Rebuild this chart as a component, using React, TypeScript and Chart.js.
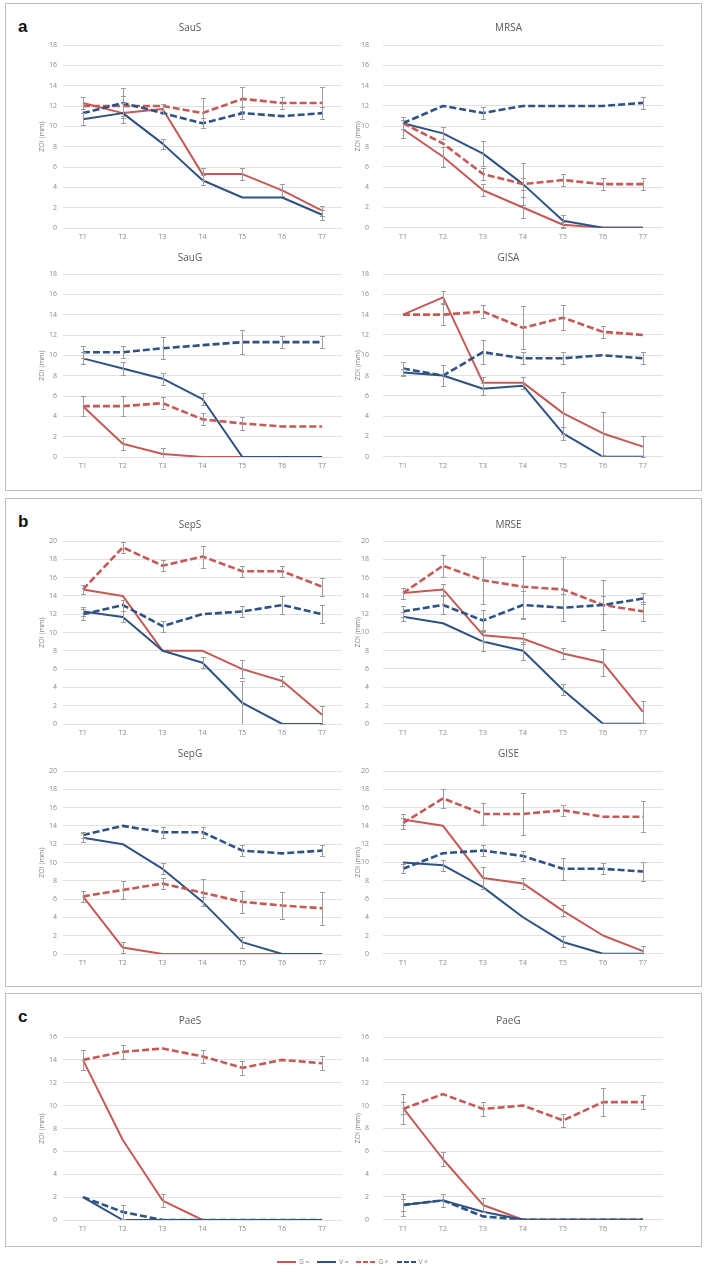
import React, { useEffect, useRef } from 'react';
import { Chart, registerables } from 'chart.js';

Chart.register(...registerables);

// ---------- data ----------
const TIMES = ['T1', 'T2', 'T3', 'T4', 'T5', 'T6', 'T7'];
const SERIES_NAMES = ['G =', 'V =', 'G ≠', 'V ≠'];
const Y_TITLE = 'ZOI (mm)';

// SauS
const SAUS_G_EQ = [12.3, 11.3, 11.7, 5.3, 5.3, 3.7, 1.7];
const SAUS_V_EQ = [10.7, 11.3, 8.3, 4.7, 3.0, 3.0, 1.3];
const SAUS_G_NE = [12.0, 12.0, 12.0, 11.3, 12.7, 12.3, 12.3];
const SAUS_V_NE = [11.3, 12.3, 11.3, 10.3, 11.3, 11.0, 11.3];
const SAUS_G_EQ_ERR = [0.6, 0, 0.5, 0.6, 0.6, 0.6, 0.5];
const SAUS_V_EQ_ERR = [0.6, 1.0, 0.5, 0.5, 0, 0, 0.5];
const SAUS_G_NE_ERR = [0, 1.0, 0, 1.5, 1.2, 0.6, 1.6];
const SAUS_V_NE_ERR = [0, 1.5, 0, 0.5, 0.6, 0, 0.6];

// MRSA
const MRSA_G_EQ = [9.7, 7.0, 3.7, 2.0, 0.3, 0, 0];
const MRSA_V_EQ = [10.3, 9.3, 7.3, 4.3, 0.7, 0, 0];
const MRSA_G_NE = [10.3, 8.3, 5.3, 4.3, 4.7, 4.3, 4.3];
const MRSA_V_NE = [10.3, 12.0, 11.3, 12.0, 12.0, 12.0, 12.3];
const MRSA_G_EQ_ERR = [0.9, 1.0, 0.6, 1.0, 0.3, 0, 0];
const MRSA_V_EQ_ERR = [0.6, 0.6, 1.2, 2.1, 0.6, 0, 0];
const MRSA_G_NE_ERR = [0, 0, 0.6, 0.6, 0.6, 0.6, 0.6];
const MRSA_V_NE_ERR = [0, 0, 0.6, 0, 0, 0, 0.6];

// SauG
const SAUG_G_EQ = [5.0, 1.3, 0.3, 0, 0, 0, 0];
const SAUG_V_EQ = [9.7, 8.7, 7.7, 5.7, 0, 0, 0];
const SAUG_G_NE = [5.0, 5.0, 5.3, 3.7, 3.3, 3.0, 3.0];
const SAUG_V_NE = [10.3, 10.3, 10.7, 11.0, 11.3, 11.3, 11.3];
const SAUG_G_EQ_ERR = [1.0, 0.6, 0.6, 0, 0, 0, 0];
const SAUG_V_EQ_ERR = [0.6, 0.6, 0.6, 0.6, 0, 0, 0];
const SAUG_G_NE_ERR = [0, 1.0, 0.6, 0.6, 0.6, 0, 0];
const SAUG_V_NE_ERR = [0.6, 0.6, 1.1, 0, 1.2, 0.6, 0.6];

// GISA
const GISA_G_EQ = [14.0, 15.7, 7.3, 7.3, 4.3, 2.3, 1.0];
const GISA_V_EQ = [8.3, 8.0, 6.7, 7.0, 2.3, 0, 0];
const GISA_G_NE = [14.0, 14.0, 14.3, 12.7, 13.7, 12.3, 12.0];
const GISA_V_NE = [8.7, 8.0, 10.3, 9.7, 9.7, 10.0, 9.7];
const GISA_G_EQ_ERR = [0, 0.6, 0.6, 0.6, 2.1, 2.1, 1.0];
const GISA_V_EQ_ERR = [0.3, 1.0, 0.6, 0, 0.6, 0, 0];
const GISA_G_NE_ERR = [0, 1.0, 0.6, 2.1, 1.2, 0.6, 0];
const GISA_V_NE_ERR = [0.6, 0, 1.2, 0.6, 0.6, 0, 0.6];

// SepS
const SEPS_G_EQ = [14.7, 14.0, 8.0, 8.0, 6.0, 4.7, 1.0];
const SEPS_V_EQ = [12.3, 11.7, 8.0, 6.7, 2.3, 0, 0];
const SEPS_G_NE = [14.7, 19.3, 17.3, 18.3, 16.7, 16.7, 15.0];
const SEPS_V_NE = [12.0, 13.0, 10.7, 12.0, 12.3, 13.0, 12.0];
const SEPS_G_EQ_ERR = [0, 0, 0, 0, 1.0, 0.6, 1.0];
const SEPS_V_EQ_ERR = [0.5, 0.6, 0, 0.6, 2.4, 0, 0];
const SEPS_G_NE_ERR = [0.5, 0.6, 0.6, 1.2, 0.6, 0.6, 1.0];
const SEPS_V_NE_ERR = [0.6, 0.6, 0.6, 0, 0.6, 1.0, 1.0];

// MRSE
const MRSE_G_EQ = [14.3, 14.7, 9.7, 9.3, 7.7, 6.7, 1.3];
const MRSE_V_EQ = [11.7, 11.0, 9.0, 8.0, 3.7, 0, 0];
const MRSE_G_NE = [14.3, 17.3, 15.7, 15.0, 14.7, 13.0, 12.3];
const MRSE_V_NE = [12.3, 13.0, 11.3, 13.0, 12.7, 13.0, 13.7];
const MRSE_G_EQ_ERR = [0.6, 0.6, 0.6, 0.6, 0.6, 1.5, 1.2];
const MRSE_V_EQ_ERR = [0.5, 0, 1.0, 1.0, 0.6, 0, 0];
const MRSE_G_NE_ERR = [0.6, 1.2, 2.6, 3.4, 3.5, 2.7, 1.0];
const MRSE_V_NE_ERR = [0.6, 1.0, 1.2, 1.5, 1.5, 1.0, 0.6];

// SepG
const SEPG_G_EQ = [6.3, 0.7, 0, 0, 0, 0, 0];
const SEPG_V_EQ = [12.7, 12.0, 9.3, 5.7, 1.3, 0, 0];
const SEPG_G_NE = [6.3, 7.0, 7.7, 6.7, 5.7, 5.3, 5.0];
const SEPG_V_NE = [13.0, 14.0, 13.3, 13.3, 11.3, 11.0, 11.3];
const SEPG_G_EQ_ERR = [0.6, 0.6, 0, 0, 0, 0, 0];
const SEPG_V_EQ_ERR = [0.5, 0, 0.6, 0.5, 0.6, 0, 0];
const SEPG_G_NE_ERR = [0, 1.0, 0.6, 1.5, 1.2, 1.5, 1.8];
const SEPG_V_NE_ERR = [0.3, 0, 0.6, 0.6, 0.6, 0, 0.6];

// GISE
const GISE_G_EQ = [14.7, 14.0, 8.3, 7.7, 4.7, 2.0, 0.3];
const GISE_V_EQ = [10.0, 9.7, 7.3, 4.0, 1.3, 0, 0];
const GISE_G_NE = [14.3, 17.0, 15.3, 15.3, 15.7, 15.0, 15.0];
const GISE_V_NE = [9.3, 11.0, 11.3, 10.7, 9.3, 9.3, 9.0];
const GISE_G_EQ_ERR = [0.6, 0, 1.2, 0.6, 0.6, 0, 0.6];
const GISE_V_EQ_ERR = [0, 0.6, 0, 0, 0.6, 0, 0];
const GISE_G_NE_ERR = [0.6, 1.0, 1.2, 2.3, 0.6, 0, 1.7];
const GISE_V_NE_ERR = [0.5, 0, 0.6, 0.6, 1.2, 0.6, 1.0];

// PaeS
const PAES_G_EQ = [14.0, 7.0, 1.7, 0, 0, 0, 0];
const PAES_V_EQ = [2.0, 0, 0, 0, 0, 0, 0];
const PAES_G_NE = [14.0, 14.7, 15.0, 14.3, 13.3, 14.0, 13.7];
const PAES_V_NE = [2.0, 0.7, 0, 0, 0, 0, 0];
const PAES_G_EQ_ERR = [0, 0, 0.6, 0, 0, 0, 0];
const PAES_V_EQ_ERR = [0, 0, 0, 0, 0, 0, 0];
const PAES_G_NE_ERR = [0.9, 0.6, 0, 0.6, 0.6, 0, 0.6];
const PAES_V_NE_ERR = [0, 0.6, 0, 0, 0, 0, 0];

// PaeG
const PAEG_G_EQ = [9.8, 5.3, 1.3, 0, 0, 0, 0];
const PAEG_V_EQ = [1.3, 1.7, 0.7, 0, 0, 0, 0];
const PAEG_G_NE = [9.7, 11.0, 9.7, 10.0, 8.7, 10.3, 10.3];
const PAEG_V_NE = [1.3, 1.7, 0.3, 0, 0, 0, 0];
const PAEG_G_EQ_ERR = [0.5, 0.6, 0.6, 0, 0, 0, 0];
const PAEG_V_EQ_ERR = [1.0, 0.6, 0, 0, 0, 0, 0];
const PAEG_G_NE_ERR = [1.3, 0, 0.6, 0, 0.6, 1.2, 0.6];
const PAEG_V_NE_ERR = [0.5, 0, 0, 0, 0, 0, 0];

// ---------- styles / layout ----------
const FONT = "'Open Sans', 'Liberation Sans', sans-serif";
const RED = '#C45A56';
const BLUE = '#2D5283';
const TICK_COLOR = '#8a8a8a';
const TITLE_COLOR = '#595959';
const X_AXIS_H = 18;

const SERIES_STYLE = [
  { color: RED, width: 2, dash: [] as number[], order: 4 },
  { color: BLUE, width: 2, dash: [] as number[], order: 3 },
  { color: RED, width: 2.6, dash: [7, 3], order: 2 },
  { color: BLUE, width: 2.6, dash: [7, 3], order: 1 },
];

const COLUMNS = [
  { left: 38, right: 342, axisW: 25, padRight: 0, tickPad: 6 },
  { left: 354, right: 666, axisW: 29, padRight: 3, tickPad: 14 },
];

const CHARTS = [
  { title: 'SauS', col: 0, titleY: 28, plotTop: 45, plotBottom: 228, yMax: 18,
    series: [SAUS_G_EQ, SAUS_V_EQ, SAUS_G_NE, SAUS_V_NE], errors: [SAUS_G_EQ_ERR, SAUS_V_EQ_ERR, SAUS_G_NE_ERR, SAUS_V_NE_ERR] },
  { title: 'MRSA', col: 1, titleY: 28, plotTop: 45, plotBottom: 228, yMax: 18,
    series: [MRSA_G_EQ, MRSA_V_EQ, MRSA_G_NE, MRSA_V_NE], errors: [MRSA_G_EQ_ERR, MRSA_V_EQ_ERR, MRSA_G_NE_ERR, MRSA_V_NE_ERR] },
  { title: 'SauG', col: 0, titleY: 258, plotTop: 274, plotBottom: 457, yMax: 18,
    series: [SAUG_G_EQ, SAUG_V_EQ, SAUG_G_NE, SAUG_V_NE], errors: [SAUG_G_EQ_ERR, SAUG_V_EQ_ERR, SAUG_G_NE_ERR, SAUG_V_NE_ERR] },
  { title: 'GISA', col: 1, titleY: 258, plotTop: 274, plotBottom: 457, yMax: 18,
    series: [GISA_G_EQ, GISA_V_EQ, GISA_G_NE, GISA_V_NE], errors: [GISA_G_EQ_ERR, GISA_V_EQ_ERR, GISA_G_NE_ERR, GISA_V_NE_ERR] },
  { title: 'SepS', col: 0, titleY: 525, plotTop: 541, plotBottom: 724, yMax: 20,
    series: [SEPS_G_EQ, SEPS_V_EQ, SEPS_G_NE, SEPS_V_NE], errors: [SEPS_G_EQ_ERR, SEPS_V_EQ_ERR, SEPS_G_NE_ERR, SEPS_V_NE_ERR] },
  { title: 'MRSE', col: 1, titleY: 525, plotTop: 541, plotBottom: 724, yMax: 20,
    series: [MRSE_G_EQ, MRSE_V_EQ, MRSE_G_NE, MRSE_V_NE], errors: [MRSE_G_EQ_ERR, MRSE_V_EQ_ERR, MRSE_G_NE_ERR, MRSE_V_NE_ERR] },
  { title: 'SepG', col: 0, titleY: 754, plotTop: 771, plotBottom: 954, yMax: 20,
    series: [SEPG_G_EQ, SEPG_V_EQ, SEPG_G_NE, SEPG_V_NE], errors: [SEPG_G_EQ_ERR, SEPG_V_EQ_ERR, SEPG_G_NE_ERR, SEPG_V_NE_ERR] },
  { title: 'GISE', col: 1, titleY: 754, plotTop: 771, plotBottom: 954, yMax: 20,
    series: [GISE_G_EQ, GISE_V_EQ, GISE_G_NE, GISE_V_NE], errors: [GISE_G_EQ_ERR, GISE_V_EQ_ERR, GISE_G_NE_ERR, GISE_V_NE_ERR] },
  { title: 'PaeS', col: 0, titleY: 1021, plotTop: 1037, plotBottom: 1220, yMax: 16,
    series: [PAES_G_EQ, PAES_V_EQ, PAES_G_NE, PAES_V_NE], errors: [PAES_G_EQ_ERR, PAES_V_EQ_ERR, PAES_G_NE_ERR, PAES_V_NE_ERR] },
  { title: 'PaeG', col: 1, titleY: 1021, plotTop: 1037, plotBottom: 1220, yMax: 16,
    series: [PAEG_G_EQ, PAEG_V_EQ, PAEG_G_NE, PAEG_V_NE], errors: [PAEG_G_EQ_ERR, PAEG_V_EQ_ERR, PAEG_G_NE_ERR, PAEG_V_NE_ERR] },
];

const PANELS = [
  { letter: 'a', top: 3, bottom: 491, baseline: 32 },
  { letter: 'b', top: 498, bottom: 987, baseline: 527 },
  { letter: 'c', top: 993, bottom: 1247, baseline: 1022 },
];

// ---------- error bar plugin ----------
const errorBarPlugin = {
  id: 'errorBars',
  afterDatasetsDraw(chart: any) {
    const { ctx, chartArea } = chart;
    const yScale = chart.scales.y;
    ctx.save();
    ctx.strokeStyle = '#9d9d9d';
    ctx.lineWidth = 1;
    ctx.setLineDash([]);
    chart.data.datasets.forEach((ds: any, di: number) => {
      const errs: number[] = ds.errors;
      if (!errs) return;
      const meta = chart.getDatasetMeta(di);
      meta.data.forEach((pt: any, i: number) => {
        const e = errs[i];
        if (!e) return;
        const v = ds.data[i];
        const x = Math.round(pt.x) + 0.5;
        const yTop = Math.round(yScale.getPixelForValue(v + e)) + 0.5;
        const yBotRaw = yScale.getPixelForValue(v - e);
        const clipped = yBotRaw > chartArea.bottom;
        const yBot = Math.round(Math.min(yBotRaw, chartArea.bottom)) + 0.5;
        ctx.beginPath();
        ctx.moveTo(x, yTop);
        ctx.lineTo(x, yBot);
        ctx.moveTo(x - 2.5, yTop);
        ctx.lineTo(x + 2.5, yTop);
        if (!clipped) {
          ctx.moveTo(x - 2.5, yBot);
          ctx.lineTo(x + 2.5, yBot);
        }
        ctx.stroke();
      });
    });
    ctx.restore();
  },
};

function ZoiChart({ cfg }: { cfg: any }) {
  const ref = useRef<HTMLCanvasElement>(null);
  const col = COLUMNS[cfg.col];
  const canvasTop = cfg.titleY - 6;
  const titlePad = cfg.plotTop - canvasTop - 12;
  const height = cfg.plotBottom - canvasTop + X_AXIS_H;
  const width = col.right - col.left;

  useEffect(() => {
    if (!ref.current) return;
    const chart = new Chart(ref.current, {
      type: 'line',
      data: {
        labels: TIMES,
        datasets: cfg.series.map((d: number[], i: number) => ({
          label: SERIES_NAMES[i],
          data: d,
          errors: cfg.errors[i],
          borderColor: SERIES_STYLE[i].color,
          backgroundColor: SERIES_STYLE[i].color,
          borderWidth: SERIES_STYLE[i].width,
          borderDash: SERIES_STYLE[i].dash,
          order: SERIES_STYLE[i].order,
          pointRadius: 0,
          pointHoverRadius: 0,
          tension: 0,
          fill: false,
          borderCapStyle: 'butt',
          borderJoinStyle: 'round',
        })),
      } as any,
      options: {
        responsive: false,
        animation: false,
        events: [],
        layout: { padding: { left: 0, right: col.padRight, top: 0, bottom: 0 } },
        plugins: {
          legend: { display: false },
          tooltip: { enabled: false },
          title: {
            display: true,
            text: cfg.title,
            color: TITLE_COLOR,
            font: { family: FONT, size: 10, weight: 'normal', lineHeight: 1.2 },
            padding: { top: 0, bottom: titlePad },
          },
        },
        scales: {
          x: {
            offset: true,
            grid: { display: false, drawTicks: false },
            border: { display: false },
            ticks: {
              color: TICK_COLOR,
              font: { family: FONT, size: 7 },
              padding: 5,
              autoSkip: false,
              maxRotation: 0,
            },
            afterFit: (s: any) => { s.height = X_AXIS_H; },
          },
          y: {
            min: 0,
            max: cfg.yMax,
            ticks: {
              stepSize: 2,
              color: TICK_COLOR,
              font: { family: FONT, size: 7 },
              padding: col.tickPad,
            },
            grid: { color: '#e2e2e2', drawTicks: false, lineWidth: 1 },
            border: { display: false },
            title: {
              display: true,
              text: Y_TITLE,
              color: TICK_COLOR,
              font: { family: FONT, size: 7, lineHeight: 1.2 },
              padding: 0,
            },
            afterFit: (s: any) => { s.width = col.axisW; },
          },
        },
      } as any,
      plugins: [errorBarPlugin],
    });
    return () => chart.destroy();
  }, []);

  return (
    <canvas
      ref={ref}
      width={width}
      height={height}
      style={{ position: 'absolute', left: col.left, top: canvasTop, width, height }}
    />
  );
}

function LegendItem({ color, dashed, label }: { color: string; dashed: boolean; label: string }) {
  return (
    <div style={{ display: 'flex', alignItems: 'center', marginRight: 8 }}>
      <svg width={19} height={6} style={{ display: 'block' }}>
        <line x1={0} y1={3} x2={19} y2={3} stroke={color} strokeWidth={2}
          strokeDasharray={dashed ? '5 2' : undefined} />
      </svg>
      <span style={{ marginLeft: 3, fontSize: 6.5, color: '#8a8a8a', fontFamily: FONT, lineHeight: '8px', whiteSpace: 'nowrap' }}>{label}</span>
    </div>
  );
}

export default function App() {
  return (
    <div style={{ position: 'absolute', left: 0, top: 0, width: 706, height: 1276, background: '#fff', overflow: 'hidden' }}>
      {PANELS.map((p) => (
        <React.Fragment key={p.letter}>
          <div style={{
            position: 'absolute', left: 5, top: p.top, width: 697, height: p.bottom - p.top,
            border: '1px solid #bdbdbd', boxSizing: 'border-box',
          }} />
          <div style={{
            position: 'absolute', left: 18, top: p.baseline - 14.5, fontFamily: "'Liberation Sans', Arial, sans-serif",
            fontWeight: 'bold', fontSize: 17, lineHeight: '17px', color: '#111',
          }}>{p.letter}</div>
        </React.Fragment>
      ))}
      {CHARTS.map((c) => <ZoiChart key={c.title} cfg={c} />)}
      <div style={{ position: 'absolute', left: 277, top: 1258, display: 'flex', alignItems: 'center' }}>
        {SERIES_NAMES.map((n, i) => (
          <LegendItem key={n} color={SERIES_STYLE[i].color} dashed={SERIES_STYLE[i].dash.length > 0} label={n} />
        ))}
      </div>
    </div>
  );
}
